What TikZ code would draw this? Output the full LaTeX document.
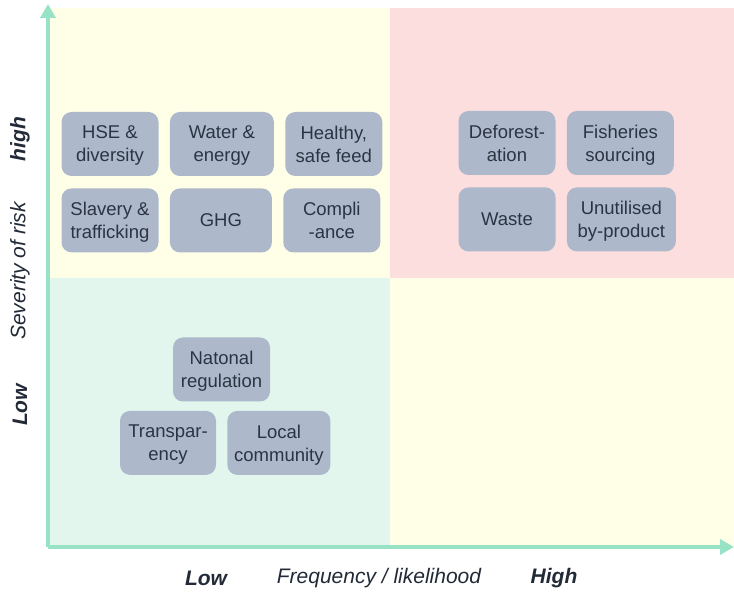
\documentclass[tikz,border=0pt]{standalone}
\usepackage{fontspec}
\setmainfont{Liberation Sans}
\usetikzlibrary{positioning,arrows.meta}

\definecolor{axisgreen}{HTML}{98E2C6}
\definecolor{paleyellow}{HTML}{FFFFE8}
\definecolor{palepink}{HTML}{FDDEDE}
\definecolor{palemint}{HTML}{E2F6EE}
\definecolor{boxgray}{HTML}{ADB9CA}
\definecolor{boxtext}{HTML}{2B3442}
\definecolor{labeltext}{HTML}{222A38}

\tikzset{
  riskbox/.style={fill=boxgray, rounded corners=10pt, minimum width=97pt,
    minimum height=64pt, inner sep=2pt, align=center, text=boxtext,
    text depth=0pt, font=\fontsize{18.5}{23}\selectfont},
  axislabel/.style={text=labeltext, inner sep=0pt,
    font=\fontsize{21}{24}\selectfont\itshape},
  axisbold/.style={axislabel, font=\fontsize{21}{24}\selectfont\bfseries\itshape},
  axisline/.style={draw=axisgreen, line width=3.5pt,
    -{Triangle[width=15pt,length=14pt]}}
}

\begin{document}
\begin{tikzpicture}[x=1pt, y=-1pt, node distance=12pt and 11pt]
\useasboundingbox (0,0) rectangle (734,593);

% quadrants
\fill[paleyellow] (50,8) rectangle (390,278);
\fill[palepink] (390,8) rectangle (734,278);
\fill[palemint] (50,278) rectangle (390,547);
\fill[paleyellow] (390,278) rectangle (734,547);

% axes
\coordinate (origin) at (48,547);
\coordinate (ytop) at (48,4);
\coordinate (xend) at (734,547);
\draw[axisline] (origin) -- (ytop);
\draw[axisline] (origin) -- (xend);

% high severity, low frequency
\node[riskbox] (hse) at (110,144) {HSE \&\\diversity};
\node[riskbox, right=of hse, minimum width=104pt] (water) {Water \&\\energy};
\node[riskbox, right=of water] (feed) {Healthy,\\safe feed};
\node[riskbox, below=of hse] (slavery) {Slavery \&\\trafficking};
\node[riskbox, right=of slavery, minimum width=102pt] (ghg) {GHG};
\node[riskbox, right=of ghg] (compliance) {Compli\\-ance};

% high severity, high frequency
\node[riskbox] (deforest) at (507,143) {Deforest-\\ation};
\node[riskbox, right=of deforest, minimum width=107pt] (fisheries) {Fisheries\\sourcing};
\node[riskbox, below=of deforest] (waste) {Waste};
\node[riskbox, right=of waste, minimum width=109pt] (byproduct) {Unutilised\\by-product};

% low severity, low frequency
\node[riskbox] (regulation) at (221.5,369.5) {Natonal\\regulation};
\node[riskbox, below=9pt of regulation, xshift=-53.5pt, minimum width=96pt] (transparency) {Transpar-\\ency};
\node[riskbox, right=of transparency, minimum width=103pt] (community) {Local\\community};

% axis labels
\node[axisbold] (xlow) at (206,578) {Low};
\node[axislabel] (xtitle) at (379,578) {Frequency / likelihood};
\node[axisbold] (xhigh) at (554,578) {High};
\node[axisbold, rotate=90] (yhigh) at (20,139) {high};
\node[axislabel, rotate=90] (ytitle) at (20,271) {Severity of risk};
\node[axisbold, rotate=90] (ylow) at (20,405) {Low};
\end{tikzpicture}
\end{document}
